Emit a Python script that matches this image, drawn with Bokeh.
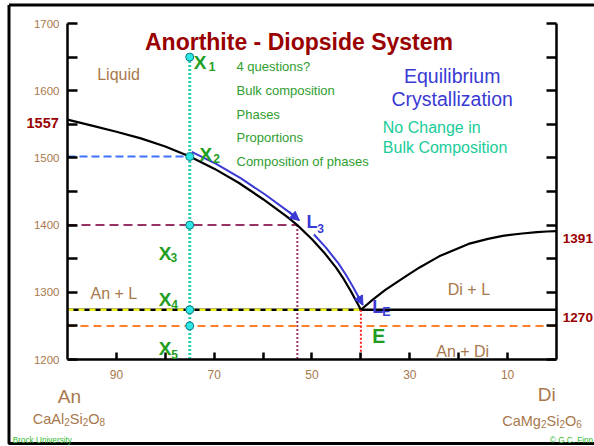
from bokeh.plotting import figure
from bokeh.models import (Range1d, LinearAxis, FixedTicker, Label, Arrow,
                          NormalHead)
from bokeh.embed import file_html
from bokeh.resources import INLINE

FONT = "Liberation Sans"

# ---------------- data ----------------
# An-side liquidus: wt% An, temperature (deg C)
liq_an_x = [100, 95, 90, 85, 80, 75, 70, 65, 60, 55, 53, 50, 47.5, 45, 43.5, 42, 41, 40]
liq_an_t = [1557, 1548, 1539, 1529, 1517, 1502, 1484, 1463, 1438.5, 1412, 1400, 1379, 1359,
            1336, 1319.5, 1301, 1287.5, 1274]
# Di-side liquidus
liq_di_x = [40, 37.5, 35, 31, 28, 24, 18, 14, 11, 7, 4, 2, 0]
liq_di_t = [1274, 1289.5, 1303.5, 1323, 1337, 1353.5, 1372, 1379.5, 1384, 1387.5, 1389.5,
            1390.5, 1391]

eut_x, eut_t = 40, 1274          # eutectic E / L_E
bulk_x = 75                      # bulk composition
pts_t = [1650, 1502, 1400, 1274, 1250]   # X1..X5 temperatures
l3_x, l3_t = 53, 1400            # L3
sub_t = 1250                     # sub-solidus line
an_melt, di_melt, eut_label = "1557", "1391", "1270"

y_ticks = [1200, 1300, 1400, 1500, 1600, 1700]
y_minor = [1250, 1350, 1450, 1550, 1650]
x_ticks = [90, 70, 50, 30, 10]
x_minor = [80, 60, 40, 20]
questions = ["4 questions?", "Bulk composition", "Phases", "Proportions",
             "Composition of phases"]

# ---------------- colours ----------------
BROWN = "#A8784C"
DARKRED = "#990000"
GREEN = "#1F9E1F"
QGREEN = "#2E9E2E"
BLUE = "#3A3AD4"
TEAL = "#1ACC99"
CYAN_LINE = "#22D4B4"
DOT_FILL = "#2EE6E6"
DOT_LINE = "#0E7C84"
DASH_BLUE = "#3D73FF"
MAROON = "#993366"
RED = "#FF2020"
YELLOW = "#F0F020"
ORANGE = "#FF7F2A"
CREDIT = "#33BB33"

# The frame fills the whole canvas; the axes sit at fixed data locations
p = figure(width=594, height=446, output_backend="svg", toolbar_location=None,
           x_range=Range1d(113.701, -7.771), y_range=Range1d(1070.54, 1734.23),
           min_border=0, title=None)
p.outline_line_color = None
p.xgrid.grid_line_color = None
p.ygrid.grid_line_color = None
p.background_fill_color = "white"
p.border_fill_color = "white"

AX_W = 2.5


def style_axis(ax, tick_len):
    ax.major_tick_in = tick_len
    ax.major_tick_out = 0
    ax.minor_tick_in = tick_len
    ax.minor_tick_out = 0
    ax.axis_line_width = AX_W
    ax.major_tick_line_width = AX_W
    ax.minor_tick_line_width = AX_W


# left axis
ya = p.yaxis[0]
ya.ticker = FixedTicker(ticks=y_ticks, minor_ticks=y_minor)
ya.fixed_location = 100
ya.bounds = (1200, 1700)
style_axis(ya, 10)
ya.major_label_standoff = 8
ya.major_label_text_font = FONT
ya.major_label_text_font_size = "11.5px"
ya.major_label_text_color = BROWN

# right axis (ticks only)
ra = LinearAxis(ticker=FixedTicker(ticks=[], minor_ticks=y_ticks + y_minor),
                fixed_location=0, bounds=(1200, 1700))
style_axis(ra, 10)
p.add_layout(ra, "right")

# bottom axis
xa = p.xaxis[0]
xa.ticker = FixedTicker(ticks=x_ticks, minor_ticks=x_minor)
xa.fixed_location = 1200
xa.bounds = (0, 100)
style_axis(xa, 7)
xa.major_label_standoff = 10
xa.major_label_text_font = FONT
xa.major_label_text_font_size = "12px"
xa.major_label_text_color = BROWN

# ---------------- outer border ----------------
bx = [111.963, -9.0, -9.0, 111.963, 111.963]
by = [1727.53, 1727.53, 1075.0, 1075.0, 1727.53]
p.line(bx, by, line_color="black", line_width=3)

# ---------------- lines ----------------
p.line([100, bulk_x], [pts_t[1], pts_t[1]], line_color=DASH_BLUE, line_width=2, line_dash="8 4")
p.line([100, l3_x], [l3_t, l3_t], line_color=MAROON, line_width=2, line_dash="9 5")
p.line([l3_x, l3_x], [l3_t, 1200], line_color=MAROON, line_width=2, line_dash="2 2")
p.line([100, 0], [sub_t, sub_t], line_color=ORANGE, line_width=2, line_dash="8 5")
p.line([100, 0], [eut_t, eut_t], line_color="black", line_width=2.5)
p.line([100, eut_x], [eut_t, eut_t], line_color=YELLOW, line_width=2.5, line_dash="6 5")
p.line([eut_x, eut_x], [eut_t, 1200], line_color=RED, line_width=2, line_dash="2 2")
p.line([bulk_x, bulk_x], [pts_t[0], 1200], line_color=CYAN_LINE, line_width=3, line_dash="2 2")

p.line(liq_an_x, liq_an_t, line_color="black", line_width=2.2)
p.line(liq_di_x, liq_di_t, line_color="black", line_width=2.2)

# blue liquid path (drawn just beside the liquidus)
d_x, d_t = -0.4, 7
i75 = liq_an_x.index(75)
i53 = liq_an_x.index(53)
i50 = liq_an_x.index(50)
p1x = [v + d_x for v in liq_an_x[i75:i53 + 1]]
p1y = [v + d_t for v in liq_an_t[i75:i53 + 1]]
p2x = [v + d_x for v in liq_an_x[i50:]]
p2y = [v + d_t for v in liq_an_t[i50:]]
for px_, py_ in [(p1x, p1y), (p2x, p2y)]:
    p.line(px_, py_, line_color=BLUE, line_width=2)
    p.add_layout(Arrow(end=NormalHead(size=9, fill_color=BLUE, line_color=BLUE, line_width=1),
                       x_start=px_[-2], y_start=py_[-2], x_end=px_[-1], y_end=py_[-1],
                       line_color=BLUE, line_width=2))

p.scatter([bulk_x] * len(pts_t), pts_t, size=8, fill_color=DOT_FILL,
          line_color=DOT_LINE, line_width=1)


def lab(x, y, text, size, color, bold=False, align="left", baseline="alphabetic", xoff=0):
    p.add_layout(Label(x=x, y=y, text=text, text_font=FONT, text_font_size=size,
                       text_color=color, text_align=align, text_baseline=baseline,
                       text_font_style="bold" if bold else "normal", x_offset=xoff))


# title
lab(52.66, 1672.2, "Anorthite - Diopside System", "23px", DARKRED, bold=True, align="center")

# field labels
lab(93.93, 1624.1, "Liquid", "16px", BROWN)
lab(95.3, 1298.7, "An + L", "16px", BROWN)
lab(22.23, 1304.2, "Di + L", "16px", BROWN)
lab(24.6, 1212.4, "An + Di", "16px", BROWN)

# X labels
xl = [(74.17, 1641.5, 71.1, 1636.5, "1"),
      (73.0, 1505.1, 70.2, 1498.7, "2"),
      (81.33, 1357.3, 78.94, 1351.3, "3"),
      (81.33, 1289.3, 78.8, 1281.8, "4"),
      (81.33, 1216.8, 78.8, 1207.4, "5")]
for x0, y0, x1, y1, s in xl:
    lab(x0, y0, "X", "19px", GREEN, bold=True)
    lab(x1, y1, s, "12px", GREEN, bold=True)

# questions
for txt, yy in zip(questions, [1636.0, 1600.3, 1565.3, 1530.4, 1495.1]):
    lab(65.44, yy, txt, "13px", QGREEN)

lab(21.33, 1622.6, "Equilibrium", "19.5px", BLUE, align="center")
lab(21.33, 1588.0, "Crystallization", "19.5px", BLUE, align="center")
lab(35.52, 1544.8, "No Change in", "16px", TEAL)
lab(35.52, 1515.9, "Bulk Composition", "16px", TEAL)

# L3, LE, E
lab(51.12, 1404.3, "L", "18px", BLUE, bold=True)
lab(48.94, 1395.4, "3", "12px", BLUE, bold=True)
lab(37.69, 1277.8, "L", "18px", BLUE, bold=True)
lab(35.65, 1270.4, "E", "12.5px", BLUE, bold=True)
lab(37.69, 1235.7, "E", "19.5px", GREEN, bold=True)

# temperatures
lab(101.78, 1552.4, an_melt, "14.5px", DARKRED, bold=True, align="right")
lab(-1.30, 1380.1, di_melt, "13.5px", DARKRED, bold=True)
lab(-1.30, 1262.9, eut_label, "13.5px", DARKRED, bold=True)

# end members
lab(101.98, 1145.4, "An", "19px", BROWN)
lab(3.83, 1147.3, "Di", "19px", BROWN)


def formula(x, y, parts):
    off = 0.0
    for txt, is_sub, w in parts:
        if is_sub:
            lab(x, y - 4.5, txt, "10px", BROWN, xoff=off)
        else:
            lab(x, y, txt, "14.5px", BROWN, xoff=off)
        off += w


formula(107.1, 1111.8, [("CaAl", False, 31.4), ("2", True, 5.6), ("Si", False, 12.9),
                        ("2", True, 5.6), ("O", False, 11.3), ("8", True, 5.6)])
formula(11.1, 1109.2, [("CaMg", False, 38.7), ("2", True, 5.6), ("Si", False, 12.9),
                       ("2", True, 5.6), ("O", False, 11.3), ("6", True, 5.6)])

# credits
lab(111.19, 1079.8, "Brock University", "8.2px", CREDIT)
lab(-7.5, 1079.8, "\u00a9 G.C. Finn", "8.2px", CREDIT, align="right")

open("out.html", "w").write(file_html(p, INLINE))
